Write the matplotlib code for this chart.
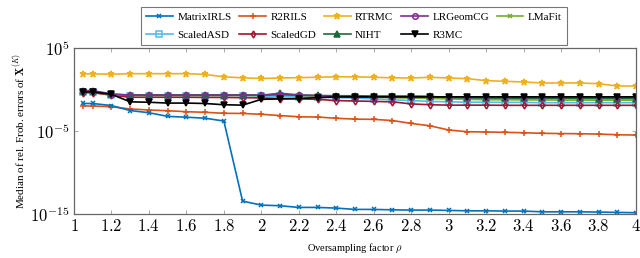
import numpy as np
import matplotlib
matplotlib.use("Agg")
import matplotlib.pyplot as plt
from matplotlib.ticker import FixedLocator, FuncFormatter, NullLocator

plt.rcParams['mathtext.fontset'] = 'cm'
plt.rcParams['font.family'] = ['Liberation Serif', 'DejaVu Serif']

rho = [1.05, 1.1, 1.2, 1.3, 1.4, 1.5, 1.6, 1.7, 1.8, 1.9, 2.0, 2.1, 2.2, 2.3, 2.4, 2.5,
       2.6, 2.7, 2.8, 2.9, 3.0, 3.1, 3.2, 3.3, 3.4, 3.5, 3.6, 3.7, 3.8, 3.9, 4.0]

# log10 of median relative errors
matrixirls = [-1.65, -1.65, -1.9, -2.5, -2.76, -3.2, -3.3, -3.42, -3.76, -13.4, -13.88,
              -13.96, -14.16, -14.16, -14.24, -14.4, -14.4, -14.45, -14.48, -14.48, -14.52,
              -14.57, -14.57, -14.6, -14.6, -14.69, -14.69, -14.69, -14.72, -14.76, -14.8]
r2rils = [-1.95, -1.95, -2.04, -2.31, -2.43, -2.52, -2.64, -2.71, -2.83, -2.85, -2.95,
          -3.1, -3.25, -3.28, -3.43, -3.53, -3.56, -3.7, -4.05, -4.33, -4.84, -5.05,
          -5.08, -5.12, -5.17, -5.24, -5.27, -5.29, -5.33, -5.41, -5.45]
rtrmc = [1.92, 1.92, 1.87, 1.94, 1.94, 1.94, 1.94, 1.85, 1.56, 1.44, 1.36, 1.42, 1.46,
         1.51, 1.56, 1.56, 1.51, 1.44, 1.42, 1.5, 1.42, 1.34, 1.1, 1.02, 0.94, 0.82,
         0.82, 0.82, 0.73, 0.46, 0.46]
lrgeomcg = [-0.1, -0.1, -0.5, -0.65, -0.65, -0.65, -0.65, -0.65, -0.65, -0.65, -0.65,
            -0.6, -0.65, -0.7, -0.85, -0.88, -0.88, -0.88, -0.88, -0.88, -0.88, -0.88,
            -0.88, -0.88, -0.88, -0.88, -0.88, -0.88, -0.88, -0.88, -0.88]
lmafit = [-0.25, -0.25, -0.6, -0.68, -0.68, -0.68, -0.68, -0.68, -0.68, -0.68, -0.7,
          -0.55, -0.7, -0.75, -0.8, -0.85, -0.9, -0.95, -1.0, -1.05, -1.1, -1.15,
          -1.2, -1.2, -1.22, -1.22, -1.24, -1.24, -1.25, -1.25, -1.25]
scaledasd = [-0.3, -0.3, -0.6, -0.7, -0.7, -0.7, -0.7, -0.7, -0.7, -0.7, -0.75, -0.8,
             -0.85, -0.9, -0.95, -1.0, -1.1, -1.2, -1.3, -1.4, -1.45, -1.5, -1.5, -1.52,
             -1.52, -1.55, -1.55, -1.55, -1.55, -1.55, -1.55]
scaledgd = [-0.35, -0.35, -0.65, -0.9, -0.9, -0.9, -0.9, -0.92, -0.92, -0.95, -0.98,
            -1.05, -1.1, -1.15, -1.3, -1.35, -1.4, -1.45, -1.7, -1.8, -1.85, -1.85,
            -1.85, -1.87, -1.87, -1.87, -1.87, -1.87, -1.87, -1.87, -1.87]
niht = [-0.2, -0.2, -0.55, -0.62, -0.62, -0.62, -0.62, -0.62, -0.62, -0.62, -0.65,
        -0.42, -0.62, -0.68, -0.72, -0.72, -0.75, -0.75, -0.75, -0.78, -0.95, -0.98,
        -1.0, -1.0, -1.02, -1.02, -1.03, -1.03, -1.05, -1.05, -1.05]
r3mc = [-0.25, -0.25, -0.55, -1.45, -1.5, -1.6, -1.6, -1.65, -1.8, -1.85, -1.15, -1.1,
        -1.05, -0.95, -0.85, -0.85, -0.85, -0.85, -0.85, -0.85, -0.85, -0.85, -0.85,
        -0.85, -0.85, -0.85, -0.85, -0.85, -0.85, -0.85, -0.85]

labels = ['MatrixIRLS', 'R2RILS', 'RTRMC', 'LRGeomCG', 'LMaFit',
          'ScaledASD', 'ScaledGD', 'NIHT', 'R3MC']
series = [matrixirls, r2rils, rtrmc, lrgeomcg, lmafit, scaledasd, scaledgd, niht, r3mc]
colors = ['#0072BD', '#D95319', '#EDB120', '#7E2F8E', '#77AC30',
          '#4DBEEE', '#A2142F', '#1B6B3A', '#000000']
markers = ['x', '+', '*', 'o', 'x', 's', 'd', '^', 'v']
mfaces = ['none', 'none', None, 'none', 'none', 'none', 'none', None, None]
msizes = [3.5, 5, 5, 4, 3.5, 4.5, 3.5, 4.2, 4.8]

fig = plt.figure(figsize=(6.4, 2.58), dpi=100)
ax = fig.add_axes([0.1156, 0.169, 0.8781, 0.644])

order = [5, 6, 4, 7, 3, 8, 2, 1, 0]
handles = [None] * 9
for i in order:
    y = 10.0 ** np.array(series[i])
    kw = dict(color=colors[i], marker=markers[i], markersize=msizes[i], lw=1.2,
              markeredgewidth=1.1, label=labels[i])
    if mfaces[i] is not None:
        kw['markerfacecolor'] = mfaces[i]
    h, = ax.plot(rho, y, **kw)
    handles[i] = h

ax.set_yscale('log')
ax.set_xlim(1, 4)
ax.set_ylim(1e-15, 1e5)
ax.xaxis.set_major_locator(FixedLocator(np.arange(1.0, 4.01, 0.2)))
ax.xaxis.set_minor_locator(NullLocator())
ax.yaxis.set_major_locator(FixedLocator([1e-15, 1e-5, 1e5]))
ax.yaxis.set_minor_locator(NullLocator())

def xfmt(v, pos):
    s = ('%.1f' % v).rstrip('0').rstrip('.')
    return '$%s$' % s

def yfmt(v, pos):
    return '$10^{%d}$' % int(round(np.log10(v)))

ax.xaxis.set_major_formatter(FuncFormatter(xfmt))
ax.yaxis.set_major_formatter(FuncFormatter(yfmt))
ax.tick_params(direction='in', top=True, right=True, labelsize=12,
               length=3, width=0.5, color='#888888', pad=3)
for sp in ax.spines.values():
    sp.set_color('#666666')
    sp.set_linewidth(0.9)

ax.set_xlabel(r'Oversampling factor $\rho$', fontsize=7.5, labelpad=5)
ax.set_ylabel(r'Median of rel. Frob. errors of $\mathbf{X}^{(K)}$', fontsize=8, labelpad=2)

# legend filled column-wise: reorder so rows read as in the reference
leg_idx = [0, 5, 1, 6, 2, 7, 3, 8, 4]
leg = fig.legend(handles=[handles[k] for k in leg_idx], loc='upper center',
                 bbox_to_anchor=(0.553, 0.995), ncol=5, fontsize=8, frameon=True,
                 fancybox=False, edgecolor='#555555', handlelength=2.4,
                 columnspacing=0.7, handletextpad=0.4, borderpad=0.5,
                 labelspacing=0.7)
leg.get_frame().set_linewidth(0.8)

fig.savefig('out.png', dpi=100)
